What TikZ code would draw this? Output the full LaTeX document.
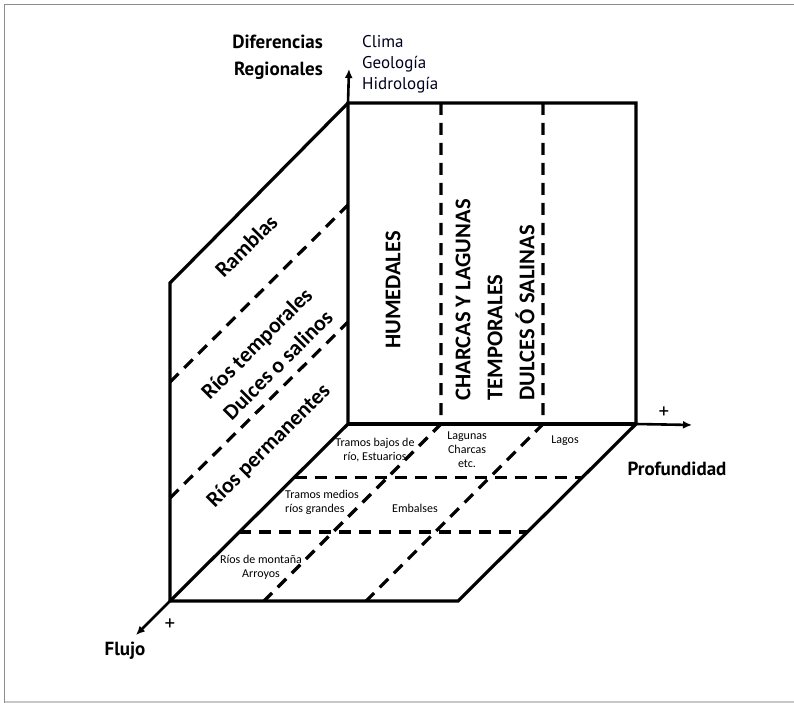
\documentclass[tikz,border=0pt]{standalone}
\usepackage{fontspec}
\setmainfont{Carlito}
\newfontfamily\dinfont{PT Sans}
\usetikzlibrary{arrows.meta,calc}

\begin{document}
\begin{tikzpicture}[x=1pt,y=-1pt,
  edge/.style={line width=3.2pt, line join=miter},
  dashedge/.style={line width=3.2pt, dash pattern=on 12pt off 8pt},
  axis/.style={line width=2.6pt, -{Latex[length=9pt,width=8pt]}},
  axislabel/.style={font=\dinfont\bfseries\fontsize{19}{27}\selectfont, inner sep=0pt},
  wallcaps/.style={font=\bfseries\fontsize{22.5}{32}\selectfont, rotate=90, inner sep=0pt},
  walltext/.style={font=\bfseries\fontsize{22}{30}\selectfont, rotate=45, inner sep=0pt, align=center},
  floortext/.style={font=\fontsize{12}{14}\selectfont, inner sep=0pt},
  plus/.style={font=\dinfont\fontsize{21}{21}\selectfont, inner sep=0pt}]

\useasboundingbox (0,0) rectangle (794,703);
\fill[white] (0,0) rectangle (794,703);
\draw[line width=1.5pt, color=black!45] (4.5,703) -- (4.5,4.5) -- (794,4.5);
\draw[line width=1.2pt, color=black!22] (4.5,702) -- (794,702);

% corners of the box
\coordinate (O)  at (170,601);
\coordinate (B)  at (348,424);
\coordinate (LT) at (170,283);
\coordinate (BT) at (348,103);
\coordinate (RT) at (636,103);
\coordinate (RB) at (636,424);
\coordinate (F)  at (458,601);

% axis tips
\coordinate (Zup) at (349,69);
\coordinate (Zr)  at (692,425);
\coordinate (Zf)  at (136,635);

% divisions of the back wall and the floor
\coordinate (b1t) at (441,103);
\coordinate (b1b) at (441,424);
\coordinate (b2t) at (543,103);
\coordinate (b2b) at (543,424);
\coordinate (f1)  at (264,601);
\coordinate (f2)  at (366,601);
\coordinate (h1l) at ($(O)!0.700!(B)$);
\coordinate (h1r) at ($(F)!0.700!(RB)$);
\coordinate (h2l) at ($(O)!0.390!(B)$);
\coordinate (h2r) at ($(F)!0.390!(RB)$);

% divisions of the left wall
\coordinate (l1a) at (170,382);
\coordinate (l1b) at (348,205);
\coordinate (l2a) at (170,498);
\coordinate (l2b) at (348,322);

% dashed divisions
\draw[dashedge] (b1t) -- (b1b) -- (f1);
\draw[dashedge] (b2t) -- (b2b) -- (f2);
\draw[dashedge] (h1l) -- (h1r);
\draw[dashedge] (h2l) -- (h2r);
\draw[dashedge] (l1a) -- (l1b);
\draw[dashedge] (l2a) -- (l2b);

% solid outline
\draw[edge] (LT) -- (O) -- (F) -- (RB) -- (RT) -- (BT) -- cycle;
\draw[edge] (BT) -- (B) -- (O);
\draw[edge] (B) -- (RB);

% axes
\draw[axis] (BT) -- (Zup);
\draw[axis] (RB) -- (Zr);
\draw[axis] (O) -- (Zf);

% axis labels
\node[axislabel, anchor=east, align=right] (dif) at (323,57) {Diferencias\\Regionales};
\node[anchor=west, align=left, inner sep=0pt, font=\dinfont\fontsize{17}{21}\selectfont, text=black!88!blue] (clima) at (362,64) {Clima\\Geología\\Hidrología};
\node[axislabel] (prof) at (677,469) {Profundidad};
\node[axislabel] (flujo) at (125,651) {Flujo};
\node[plus] (pr) at (664,413) {+};
\node[plus] (pf) at (170,625) {+};

% back wall
\node[wallcaps] (hum) at (393,290) {HUMEDALES};
\node[wallcaps, align=left] (charcas) at (495,300) {CHARCAS Y LAGUNAS\\TEMPORALES\\DULCES Ó SALINAS};

% left wall
\node[walltext] (ramblas) at (246,246) {Ramblas};
\node[walltext] (temp) at (267,354) {Ríos temporales\\Dulces o salinos};
\node[walltext] (perm) at (269,446) {Ríos permanentes};

% floor
\node[floortext, align=center] (tbajos) at (375,450) {Tramos bajos de\\río, Estuarios};
\node[floortext, align=center] (lagunas) at (467,450) {Lagunas\\Charcas\\etc.};
\node[floortext] (lagos) at (565,441) {Lagos};
\node[floortext, align=left, anchor=west] (tmedios) at (285,502) {Tramos medios\\ríos grandes};
\node[floortext] (embalses) at (415,508) {Embalses};
\node[floortext, align=center] (montana) at (261,567) {Ríos de montaña\\Arroyos};

\end{tikzpicture}
\end{document}
